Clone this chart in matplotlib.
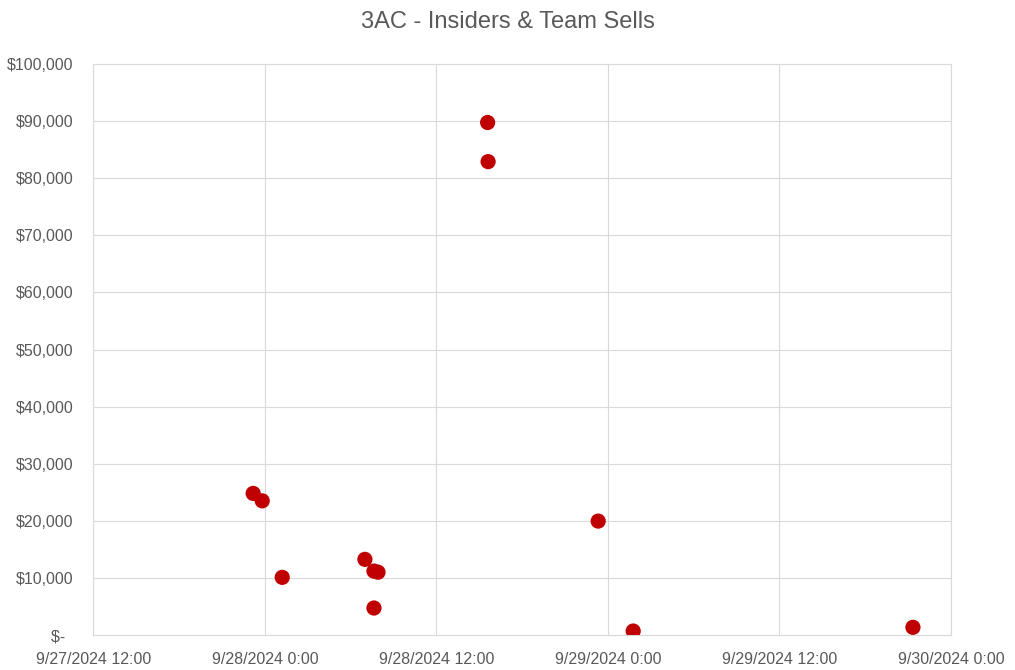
import matplotlib
matplotlib.use('Agg')
import matplotlib.pyplot as plt
import matplotlib.dates as mdates
from matplotlib.ticker import FuncFormatter, MultipleLocator
from datetime import datetime

# sell events
sell_times = [
    '2024-09-27 23:11', '2024-09-27 23:49', '2024-09-28 01:13',
    '2024-09-28 07:00', '2024-09-28 07:38', '2024-09-28 07:55',
    '2024-09-28 07:38', '2024-09-28 15:37', '2024-09-28 15:35',
    '2024-09-28 23:19', '2024-09-29 01:46', '2024-09-29 21:20',
]
sell_usd = [24800, 23500, 10100, 13250, 11200, 11000,
            4730, 82900, 89750, 19950, 700, 1350]

x_start = '2024-09-27 12:00'
x_end = '2024-09-30 00:00'

GRAY = '#595959'
GRID = '#D9D9D9'
plt.rcParams['font.family'] = ['Liberation Sans', 'DejaVu Sans']

times = [datetime.strptime(t, '%Y-%m-%d %H:%M') for t in sell_times]

fig = plt.figure(figsize=(10.15, 6.70), dpi=100)
ax = fig.add_axes([0.0919, 0.0522, 0.937 - 0.0919, 0.9045 - 0.0522])

ax.scatter(times, sell_usd, s=120, color='#C00000', edgecolors='none', zorder=3)

ax.set_xlim(datetime.strptime(x_start, '%Y-%m-%d %H:%M'), datetime.strptime(x_end, '%Y-%m-%d %H:%M'))
ax.set_ylim(0, 100000)
ax.xaxis.set_major_locator(mdates.HourLocator(byhour=[0, 12]))


def fmt_date(v, pos):
    d = mdates.num2date(v)
    return f'{d.month}/{d.day}/{d.year} {d.hour}:{d.minute:02d}'


def fmt_usd(v, pos):
    if v == 0:
        return '$-  '
    return f'${v:,.0f}'


ax.xaxis.set_major_formatter(FuncFormatter(fmt_date))
ax.yaxis.set_major_locator(MultipleLocator(10000))
ax.yaxis.set_major_formatter(FuncFormatter(fmt_usd))

ax.grid(True, color=GRID, linewidth=0.8)
ax.set_axisbelow(True)
for s in ax.spines.values():
    s.set_color(GRID)
    s.set_linewidth(0.8)
ax.tick_params(length=0, labelsize=11.5, labelcolor=GRAY)
ax.tick_params(axis='x', pad=12)
ax.tick_params(axis='y', pad=14)

fig.text(0.5, 0.967, '3AC - Insiders & Team Sells', ha='center', va='center',
         fontsize=17, color=GRAY)

fig.savefig('out.png', dpi=100, facecolor='white')
